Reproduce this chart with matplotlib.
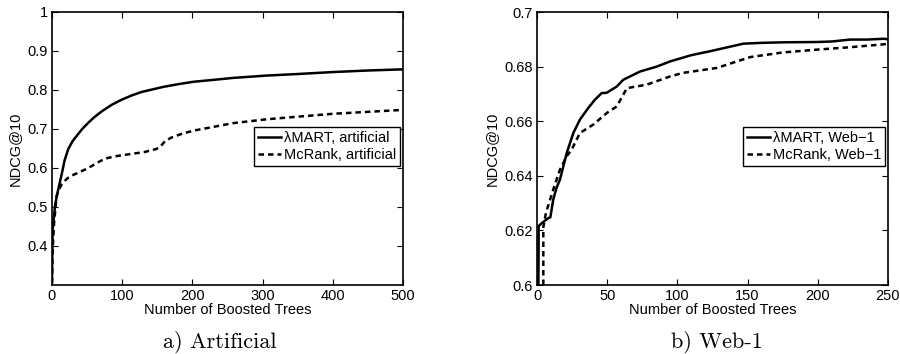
import numpy as np
import matplotlib
matplotlib.use("Agg")
import matplotlib.pyplot as plt

plt.rcParams['font.family'] = ['Liberation Sans', 'DejaVu Sans']

# a) artificial data
art_lm_x = [0, 0.5, 1, 2.5, 4.3, 7, 9, 13.8, 18, 23, 29, 35, 43, 51.7, 60, 70.7, 85, 99, 115,
            127.7, 142, 158.5, 180, 201, 230, 258, 306, 350, 400, 450, 500]
art_lm_y = [0.305, 0.40, 0.443, 0.47, 0.503, 0.53, 0.546, 0.584, 0.62, 0.648, 0.668, 0.682, 0.70,
            0.716, 0.73, 0.745, 0.762, 0.775, 0.787, 0.795, 0.801, 0.808, 0.815, 0.821, 0.826,
            0.831, 0.837, 0.841, 0.846, 0.850, 0.853]
art_mc_x = [0, 0.5, 1.5, 3, 6.6, 10, 13.8, 18, 23, 30, 37.5, 47, 56.5, 66, 75.5, 90, 108.7, 132,
            149, 155, 161, 170, 187, 205, 220, 258, 306, 353, 400, 450, 500]
art_mc_y = [0.305, 0.36, 0.41, 0.46, 0.528, 0.545, 0.558, 0.567, 0.575, 0.582, 0.588, 0.596,
            0.605, 0.615, 0.624, 0.630, 0.635, 0.641, 0.649, 0.656, 0.669, 0.678, 0.689, 0.697,
            0.702, 0.715, 0.725, 0.732, 0.739, 0.744, 0.749]

# b) Web-1 data
web_lm_x = [1, 1.2, 3.3, 8, 9.5, 11.6, 14, 16.4, 21.2, 25.9, 30.6, 36.6, 41.3, 46.1, 49.6, 56.8,
            61.5, 73.4, 85.3, 94.8, 99.4, 110, 123, 135, 147, 160, 175.5, 199, 210, 223, 235, 247, 250]
web_lm_y = [0.6, 0.6216, 0.6226, 0.6245, 0.6248, 0.6314, 0.6357, 0.6387, 0.6484, 0.6557, 0.6606,
            0.6649, 0.6679, 0.6703, 0.6704, 0.6727, 0.6752, 0.6782, 0.68, 0.6819, 0.6826, 0.6842,
            0.6856, 0.687, 0.6884, 0.6887, 0.6889, 0.689, 0.6892, 0.6899, 0.6899, 0.6902, 0.690]
web_mc_x = [4.5, 4.5, 6.4, 11.6, 16.4, 21.2, 24.7, 30.6, 40.2, 49.7, 56.8, 64, 78.2, 94.8, 104,
            128, 152, 175.5, 199, 223, 250]
web_mc_y = [0.6, 0.6212, 0.6265, 0.635, 0.6423, 0.6472, 0.6496, 0.6557, 0.6588, 0.663, 0.6654,
            0.6721, 0.6734, 0.6764, 0.6777, 0.6795, 0.6835, 0.6852, 0.6862, 0.6871, 0.6883]

art_xticks = [0, 100, 200, 300, 400, 500]
art_yticks = [0.4, 0.5, 0.6, 0.7, 0.8, 0.9, 1.0]
art_ylabels = ['0.4', '0.5', '0.6', '0.7', '0.8', '0.9', '1']
web_xticks = [0, 50, 100, 150, 200, 250]
web_yticks = [0.6, 0.62, 0.64, 0.66, 0.68, 0.7]
web_ylabels = ['0.6', '0.62', '0.64', '0.66', '0.68', '0.7']

fig = plt.figure(figsize=(9, 3.54), dpi=100)
ax1 = fig.add_axes([52/900, 1-285/354, 351/900, 273/354])
ax2 = fig.add_axes([537/900, 1-285/354, 351/900, 273/354])


def style(ax, xt, yt, yl, xlim, ylim):
    ax.set_xlim(*xlim)
    ax.set_ylim(*ylim)
    ax.set_xticks(xt)
    ax.set_yticks(yt)
    ax.set_yticklabels(yl)
    ax.tick_params(direction='in', top=True, right=True, labelsize=10.5, length=4,
                   width=0.8, pad=3)
    for s in ax.spines.values():
        s.set_linewidth(1.2)
    ax.set_xlabel('Number of Boosted Trees', fontsize=10.5, labelpad=0)
    ax.set_ylabel('NDCG@10', fontsize=10.5, labelpad=4)


ax1.plot(art_lm_x, art_lm_y, 'k-', lw=1.8, label='λMART, artificial')
ax1.plot(art_mc_x, art_mc_y, 'k--', lw=1.8, dashes=(2.2, 1.6), label='McRank, artificial')
style(ax1, art_xticks, art_yticks, art_ylabels, (0, 500), (0.3, 1.0))
ax1.legend(loc='upper right', bbox_to_anchor=(0.992, 0.577), borderaxespad=0, fontsize=10.5,
           fancybox=False, edgecolor='k', framealpha=1, handlelength=1.6, handletextpad=0.2,
           borderpad=0.25, labelspacing=0.2)

ax2.plot(web_lm_x, web_lm_y, 'k-', lw=1.8, label='λMART, Web−1')
ax2.plot(web_mc_x, web_mc_y, 'k--', lw=1.8, dashes=(2.2, 1.6), label='McRank, Web−1')
style(ax2, web_xticks, web_yticks, web_ylabels, (0, 250), (0.6, 0.7))
ax2.legend(loc='upper right', bbox_to_anchor=(0.992, 0.577), borderaxespad=0, fontsize=10.5,
           fancybox=False, edgecolor='k', framealpha=1, handlelength=1.6, handletextpad=0.2,
           borderpad=0.25, labelspacing=0.2)

fig.text(220/900, 1-342/354, 'a) Artificial', family='cmr10', fontsize=16, ha='center', va='center')
fig.text(717/900, 1-342/354, 'b) Web-1', family='cmr10', fontsize=16, ha='center', va='center')

fig.savefig('out.png', dpi=100)
